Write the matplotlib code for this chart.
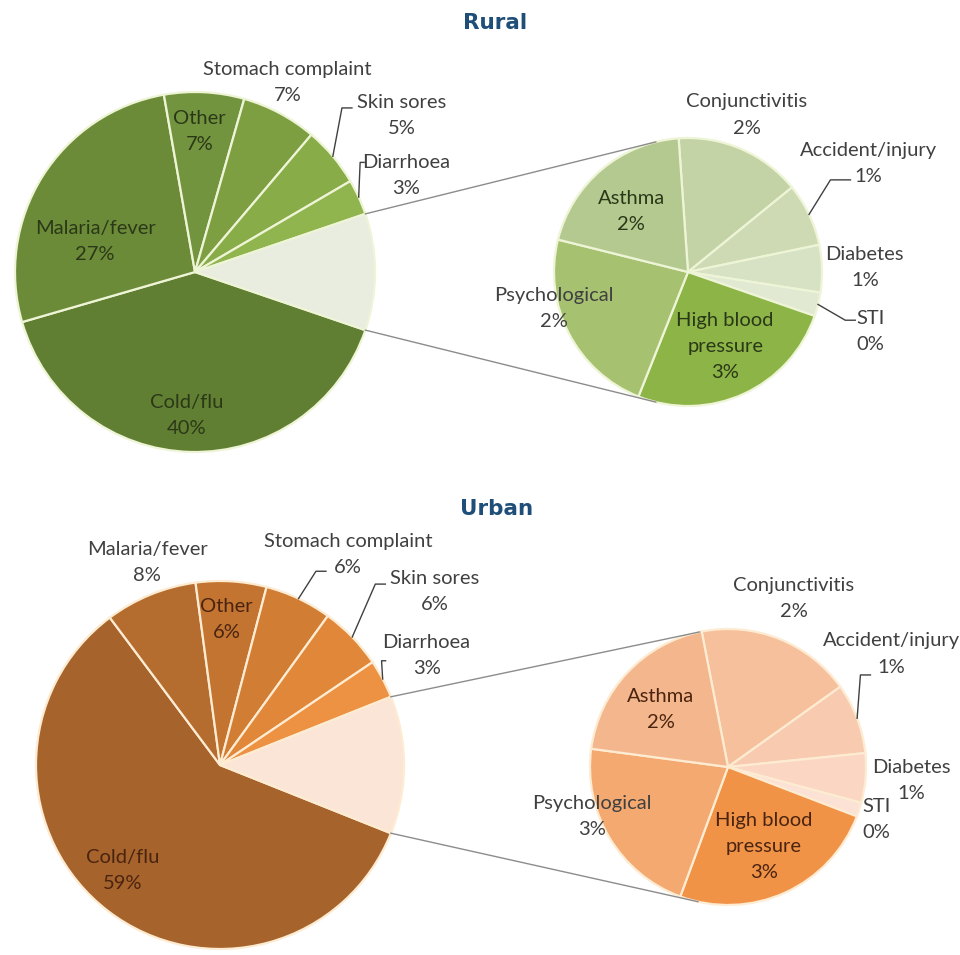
import numpy as np
import matplotlib.pyplot as plt

plt.rcParams['font.family'] = ['Lato', 'DejaVu Sans']

W, H = 960, 955

# main pie slices (clockwise from the split-off slice)
MAIN_NAMES = ["Cold/flu", "Malaria/fever", "Other", "Stomach complaint", "Skin sores", "Diarrhoea"]
RURAL_MAIN = [40.4, 26.8, 7.2, 6.8, 5.4, 3.2]
URBAN_MAIN = [58.8, 8.1, 6.2, 5.9, 5.6, 3.4]

# the split-off slice, shown as the second pie
MINOR_NAMES = ["Conjunctivitis", "Accident/injury", "Diabetes", "STI",
               "High blood\npressure", "Psychological", "Asthma"]
RURAL_MINOR = [1.6, 0.8, 0.6, 0.3, 2.7, 2.4, 2.1]
URBAN_MINOR = [2.2, 1.0, 0.7, 0.2, 3.0, 2.6, 2.4]

RURAL_MAIN_COLORS = ["#617f32", "#6c8b38", "#73943e", "#7d9f42", "#88ac48", "#90b54e", "#e8ede0"]
RURAL_MINOR_COLORS = ["#c3d3a5", "#cddab4", "#d7e1c4", "#e2e9d3", "#8cb446", "#a6c170", "#b4c990"]
URBAN_MAIN_COLORS = ["#a6632c", "#b56c2f", "#c37431", "#d27d34", "#e08739", "#ed9142", "#fbe5d7"]
URBAN_MINOR_COLORS = ["#f6c09c", "#f8cbb0", "#fad6c3", "#fbe2d4", "#f19346", "#f4a970", "#f4b68c"]

RURAL = dict(
    title="Rural", title_xy=(495, 932),
    main_c=(195, 683), main_r=180,
    minor_c=(688, 683), minor_r=134, minor_start=94,
    edge="#eef4d6", inner_text="#2b3818",
    main_lbl=[(0.80, -2), (0.58, 15), (0.78, 1), (1.17, 2), (1.44, -3), (1.29, 0)],
    minor_lbl=[(1.25, 3), (1.57, 5.5), (1.32, 0), (1.43, -4), (0.62, 2), (1.04, -12), (0.62, 3)],
    main_lead={4: [(-60, 8), (-50, 8)], 5: [(-46, 13), (-42, 13)]},
    minor_lead={1: [(-38, -16), (-18, -16)], 3: [(-25, 11), (-15, 11)]},
)
URBAN = dict(
    title="Urban", title_xy=(497, 446),
    main_c=(220, 190), main_r=184,
    minor_c=(728, 188), minor_r=138, minor_start=101,
    edge="#fdebd2", inner_text="#4a2410",
    main_lbl=[(0.78, -5), (1.17, -2.5), (0.79, 1), (1.34, -6), (1.50, -5), (1.27, 0)],
    minor_lbl=[(1.31, 0.5), (1.44, 14), (1.33, 0.5), (1.14, -1.5), (0.63, 0), (1.05, -11), (0.64, 3)],
    main_lead={3: [(-32, -17), (-22, -17)], 4: [(-59, 7), (-49, 7)], 5: [(-45, -5), (-41, -5)]},
    minor_lead={1: [(-31, -21), (-21, -21)]},
)


def pct(v):
    return f"{int(round(v))}%"


def polar(c, r, deg):
    a = np.radians(deg)
    return c[0] + r * np.cos(a), c[1] + r * np.sin(a)


def label_slices(ax, wedges, names, vals, c, r, spec, leads, inner_color):
    for i, (w, name, v) in enumerate(zip(wedges, names, vals)):
        mid = 0.5 * (w.theta1 + w.theta2)
        rf, da = spec[i]
        tx, ty = polar(c, rf * r, mid + da)
        color = inner_color if rf < 1 else "#404040"
        ax.text(tx, ty, f"{name}\n{pct(v)}", ha="center", va="center",
                multialignment="center", fontsize=14.5, linespacing=1.65, color=color)
        if i in leads:
            sx, sy = polar(c, r, mid)
            xs = [sx] + [tx + dx for dx, _ in leads[i]]
            ys = [sy] + [ty + dy for _, dy in leads[i]]
            ax.plot(xs, ys, color="#404040", lw=1)


def tangent_point(p, c, r, sign):
    d = np.hypot(p[0] - c[0], p[1] - c[1])
    phi = np.degrees(np.arctan2(p[1] - c[1], p[0] - c[0]))
    alpha = np.degrees(np.arccos(r / d))
    return polar(c, r, phi + sign * alpha)


def draw_panel(ax, g, main_vals, minor_vals, main_colors, minor_colors):
    rest = sum(minor_vals)
    vals = main_vals + [rest]
    total = sum(vals)
    start = -180 * rest / total
    wp = dict(edgecolor=g["edge"], linewidth=1.6)

    main_w, _ = ax.pie(vals, colors=main_colors, center=g["main_c"], radius=g["main_r"],
                       startangle=start, counterclock=False, wedgeprops=wp)
    minor_w, _ = ax.pie(minor_vals, colors=minor_colors, center=g["minor_c"], radius=g["minor_r"],
                        startangle=g["minor_start"], counterclock=False, wedgeprops=wp)

    # connector lines from the split slice to the second pie
    rw = main_w[-1]
    for theta, sign in ((rw.theta2, -1), (rw.theta1, 1)):
        p = polar(g["main_c"], g["main_r"], theta)
        q = tangent_point(p, g["minor_c"], g["minor_r"], sign)
        ax.plot([p[0], q[0]], [p[1], q[1]], color="#8c8c8c", lw=1)

    label_slices(ax, main_w, MAIN_NAMES, main_vals, g["main_c"], g["main_r"],
                 g["main_lbl"], g["main_lead"], g["inner_text"])
    label_slices(ax, minor_w, MINOR_NAMES, minor_vals, g["minor_c"], g["minor_r"],
                 g["minor_lbl"], g["minor_lead"], g["inner_text"])

    ax.text(*g["title_xy"], g["title"], ha="center", va="center", fontsize=15.5,
            fontweight="bold", color="#1f4e79", family="DejaVu Sans")


fig = plt.figure(figsize=(W / 100, H / 100), dpi=100)
ax = fig.add_axes([0, 0, 1, 1])

draw_panel(ax, RURAL, RURAL_MAIN, RURAL_MINOR, RURAL_MAIN_COLORS, RURAL_MINOR_COLORS)
draw_panel(ax, URBAN, URBAN_MAIN, URBAN_MINOR, URBAN_MAIN_COLORS, URBAN_MINOR_COLORS)

ax.set_xlim(0, W)
ax.set_ylim(0, H)
ax.set_aspect("equal")
ax.axis("off")

fig.savefig("out.png", dpi=100, facecolor="white")
